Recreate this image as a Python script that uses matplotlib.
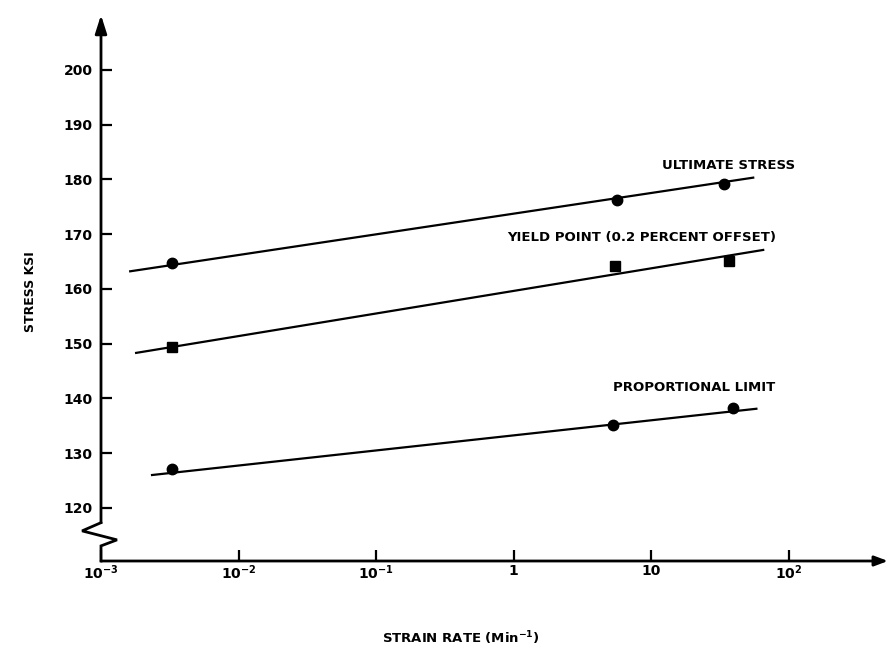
import matplotlib
matplotlib.use("Agg")
import matplotlib.pyplot as plt

plt.rcParams["font.family"] = ["DejaVu Sans"]
plt.rcParams["font.weight"] = "bold"
plt.rcParams["mathtext.default"] = "bf"

# Measured test points: strain rate (1/min) vs stress (ksi)
strain_ultimate = [0.0033, 5.6, 34.0]
stress_ultimate = [164.8, 176.3, 179.1]
strain_yield = [0.0033, 5.4, 36.4]
stress_yield = [149.4, 164.1, 165.1]
strain_prop = [0.0033, 5.3, 39.5]
stress_prop = [127.1, 135.2, 138.3]

# Fitted straight lines (semi-log), end points
fit_ultimate_x = [0.00163, 55.0]
fit_ultimate_y = [163.2, 180.3]
fit_yield_x = [0.0018, 65.0]
fit_yield_y = [148.3, 167.1]
fit_prop_x = [0.00235, 58.0]
fit_prop_y = [126.0, 138.1]

x_ticks = [1e-3, 1e-2, 1e-1, 1, 10, 100]
x_tick_labels = ["$10^{-3}$", "$10^{-2}$", "$10^{-1}$", "1", "10", "$10^{2}$"]
y_ticks = [120, 130, 140, 150, 160, 170, 180, 190, 200]

fig = plt.figure(figsize=(8.9, 6.49), dpi=100)
ax = fig.add_axes([101 / 890, 1 - 561 / 649, 787 / 890, 546 / 649])
ax.set_xscale("log")
ax.set_xlim(1e-3, 10 ** 2.72)
ax.set_ylim(110.3, 210.0)

lw = 1.6
ax.plot(fit_ultimate_x, fit_ultimate_y, color="black", lw=lw)
ax.plot(fit_yield_x, fit_yield_y, color="black", lw=lw)
ax.plot(fit_prop_x, fit_prop_y, color="black", lw=lw)
ax.plot(strain_ultimate, stress_ultimate, "o", color="black", ms=7.5)
ax.plot(strain_yield, stress_yield, "s", color="black", ms=7)
ax.plot(strain_prop, stress_prop, "o", color="black", ms=7.5)

lab_kw = dict(fontsize=9.5, fontweight="bold", ha="left", va="center")
ax.text(11.9, 182.5, "ULTIMATE STRESS", **lab_kw)
ax.text(0.89, 169.3, "YIELD POINT (0.2 PERCENT OFFSET)", **lab_kw)
ax.text(5.26, 141.9, "PROPORTIONAL LIMIT", **lab_kw)

# Axes drawn by hand: broken stress axis with arrow heads at both ends
for s in ax.spines.values():
    s.set_visible(False)
brk_top = 117.3
yx = ax.get_yaxis_transform()
ax.plot([0, -0.024, 0.0203, 0, 0],
        [brk_top, 115.8, 114.16, 113.06, 110.3],
        color="black", lw=2, transform=yx, clip_on=False,
        solid_joinstyle="miter")

ax.annotate("", xy=(0, 1), xycoords="axes fraction",
            xytext=(0, brk_top), textcoords=yx,
            arrowprops=dict(arrowstyle="-|>,head_length=1.1,head_width=0.35",
                            lw=2, color="black", shrinkA=0, shrinkB=0))
ax.annotate("", xy=(1.0, 0), xycoords="axes fraction",
            xytext=(0.0, 0), textcoords="axes fraction",
            arrowprops=dict(arrowstyle="-|>,head_length=0.8,head_width=0.3",
                            lw=2, color="black", shrinkA=0, shrinkB=0))

ax.set_xticks(x_ticks)
ax.set_xticklabels(x_tick_labels)
ax.xaxis.set_minor_locator(matplotlib.ticker.NullLocator())
ax.set_yticks(y_ticks)
ax.tick_params(axis="both", direction="in", length=8, width=1.6, labelsize=10)
ax.tick_params(axis="x", pad=2)
ax.tick_params(axis="y", pad=6)
for t in ax.get_xticklabels() + ax.get_yticklabels():
    t.set_fontweight("bold")

fig.text(461 / 890, 1 - 638 / 649, "STRAIN RATE (Min$^{-1}$)", fontsize=9.5,
         fontweight="bold", ha="center", va="center")
fig.text(30 / 890, 1 - 292 / 649, "STRESS KSI", fontsize=9, fontweight="bold",
         ha="center", va="center", rotation=90)

fig.savefig("out.png", dpi=100)
